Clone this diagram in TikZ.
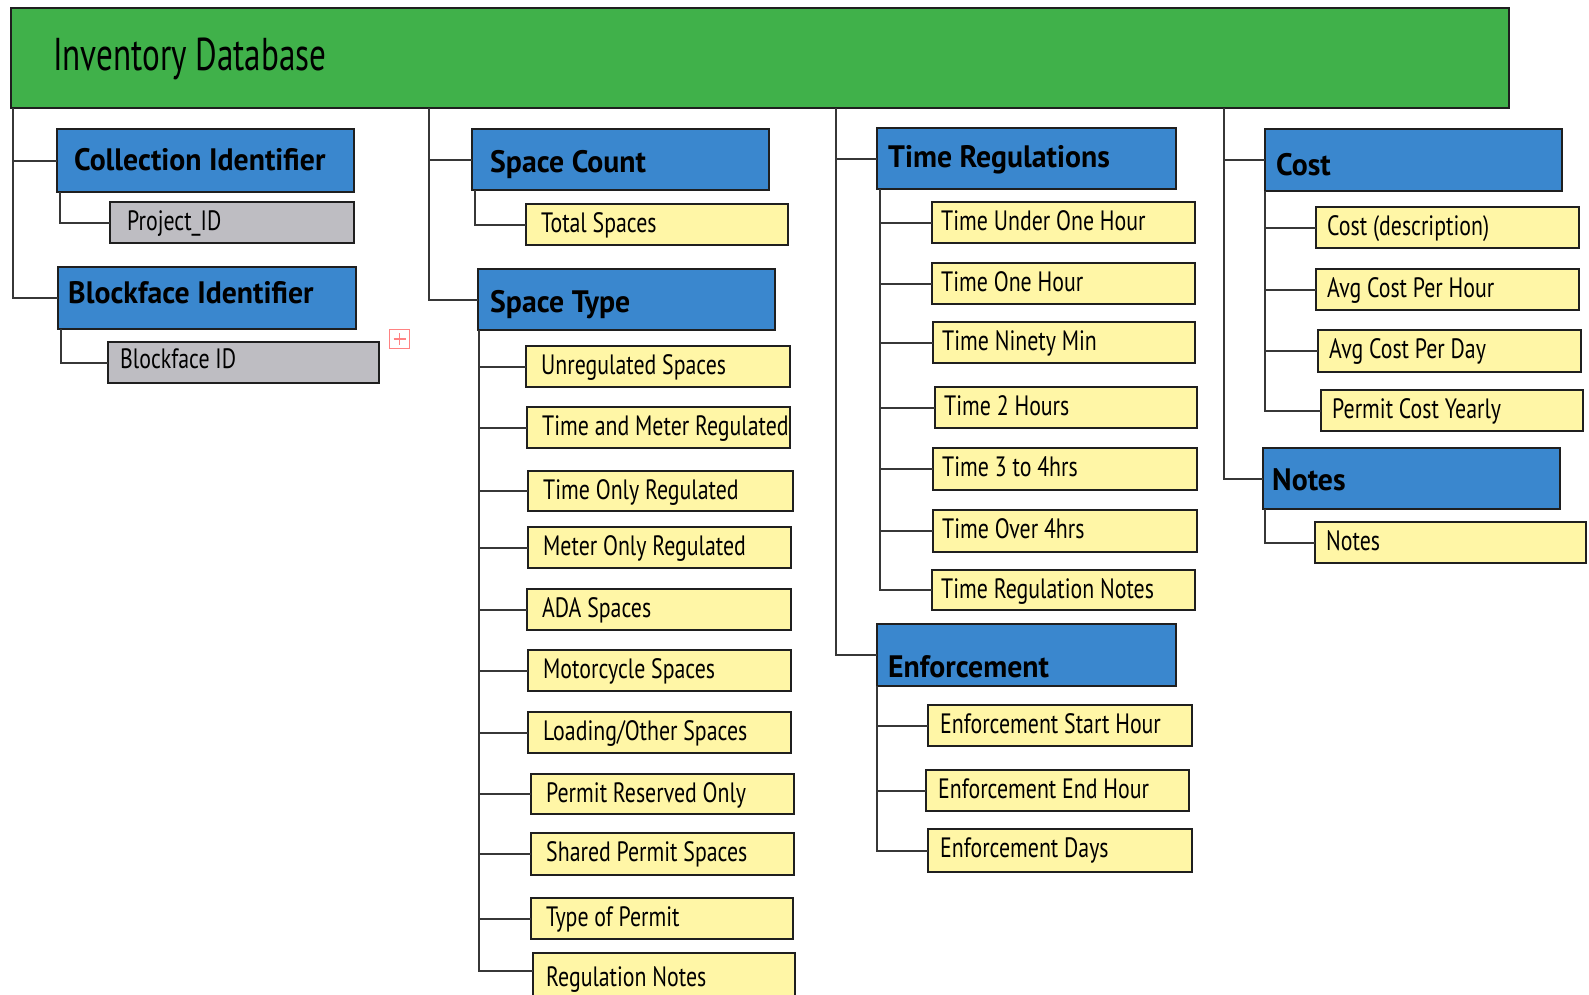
\documentclass[tikz,border=0pt]{standalone}
\usepackage{fontspec}
\setmainfont{PT Sans}
\newfontfamily\leaffont[FakeStretch=0.78]{PT Sans}
\newfontfamily\headfont[FakeStretch=0.96]{PT Sans}
\newfontfamily\titlefont[FakeStretch=0.72]{PT Sans}
\usetikzlibrary{calc}
\definecolor{gfill}{RGB}{64,177,74}
\definecolor{bfill}{RGB}{58,135,206}
\definecolor{yfill}{RGB}{255,246,166}
\definecolor{grfill}{RGB}{190,189,194}
\definecolor{conncol}{RGB}{55,55,55}
\definecolor{plusred}{RGB}{255,130,130}
\tikzset{
 rbox/.style={draw=black!88, line width=2.2pt, inner sep=0pt, outer sep=0pt, anchor=north west},
 rootbox/.style={rbox, fill=gfill},
 headbox/.style={rbox, fill=bfill},
 leafbox/.style={rbox, fill=yfill},
 idbox/.style={rbox, fill=grfill},
 titletext/.style={anchor=base west, inner sep=0pt, font=\titlefont\fontsize{46}{50}\selectfont},
 headtext/.style={anchor=base west, inner sep=0pt, font=\headfont\bfseries\fontsize{31}{34}\selectfont},
 leaftext/.style={anchor=base west, inner sep=0pt, font=\leaffont\fontsize{28}{31}\selectfont},
 conn/.style={draw=conncol, line width=2pt},
 plusbox/.style={draw=plusred, line width=1.2pt, inner sep=0pt, minimum width=20pt, minimum height=19pt, anchor=north west},
}
\newcommand\leafdx{14}
\newcommand\dbbox[6]{\node[#1, minimum width={(#5-#3)*1pt}, minimum height={(#6-#4)*1pt}] (#2) at (#3,#4) {};}
\newcommand\leaf[6]{\dbbox{leafbox}{#1}{#2}{#3}{#4}{#5}\node[leaftext] (#1-t) at (#2+\leafdx,#3+28) {#6};}
\begin{document}
\begin{tikzpicture}[x=1pt,y=-1pt]
\useasboundingbox[fill=white] (0,0) rectangle (1589,994);
% root
\dbbox{rootbox}{root}{11}{8}{1509}{108}
\node[titletext] (root-t) at (53,70) {Inventory Database};
% column 1
\dbbox{headbox}{ci}{57}{129}{354}{192}
\node[headtext] (ci-t) at (74,170) {Collection Identifier};
\dbbox{idbox}{pid}{110}{202}{354}{243}
\node[leaftext] (pid-t) at (127,230) {Project\_ID};
\dbbox{headbox}{bi}{58}{267}{356}{329}
\node[headtext] (bi-t) at (68,303) {Blockface Identifier};
\dbbox{idbox}{bid}{108}{342}{379}{383}
\node[leaftext] (bid-t) at (120,368) {Blockface ID};
\node[plusbox] (plus) at (389,329) {};
\draw[plusred, line width=1.4pt] ($(plus.center)+(-6,0)$) -- ($(plus.center)+(6,0)$) ($(plus.center)+(0,-6)$) -- ($(plus.center)+(0,6)$);
% column 2
\renewcommand\leafdx{15}
\dbbox{headbox}{sc}{472}{129}{769}{190}
\node[headtext] (sc-t) at (490,172) {Space Count};
\leaf{ts}{526}{204}{788}{245}{Total Spaces}
\dbbox{headbox}{st}{478}{269}{775}{330}
\node[headtext] (st-t) at (490,312) {Space Type};
\leaf{s1}{526}{346}{790}{387}{Unregulated Spaces}
\leaf{s2}{527}{407}{790}{448}{Time and Meter Regulated}
\leaf{s3}{528}{471}{793}{511}{Time Only Regulated}
\leaf{s4}{528}{527}{791}{568}{Meter Only Regulated}
\leaf{s5}{527}{589}{791}{630}{ADA Spaces}
\leaf{s6}{528}{650}{791}{691}{Motorcycle Spaces}
\leaf{s7}{528}{712}{791}{753}{Loading/Other Spaces}
\leaf{s8}{531}{774}{794}{814}{Permit Reserved Only}
\leaf{s9}{531}{833}{794}{875}{Shared Permit Spaces}
\leaf{s10}{531}{898}{793}{939}{Type of Permit}
\dbbox{leafbox}{s11}{533}{953}{795}{1010}
\node[leaftext] (s11-t) at (546,986) {Regulation Notes};
% column 3
\renewcommand\leafdx{9}
\dbbox{headbox}{tr}{877}{128}{1176}{189}
\node[headtext] (tr-t) at (888,167) {Time Regulations};
\leaf{t1}{932}{202}{1195}{243}{Time Under One Hour}
\leaf{t2}{932}{263}{1195}{304}{Time One Hour}
\leaf{t3}{933}{322}{1195}{363}{Time Ninety Min}
\leaf{t4}{935}{387}{1197}{428}{Time 2 Hours}
\leaf{t5}{933}{448}{1197}{490}{Time 3 to 4hrs}
\leaf{t6}{933}{510}{1197}{552}{Time Over 4hrs}
\leaf{t7}{932}{570}{1195}{610}{Time Regulation Notes}
\renewcommand\leafdx{12}
\dbbox{headbox}{en}{877}{624}{1176}{686}
\node[headtext] (en-t) at (888,677) {Enforcement};
\leaf{e1}{928}{705}{1192}{746}{Enforcement Start Hour}
\leaf{e2}{926}{770}{1189}{811}{Enforcement End Hour}
\leaf{e3}{928}{829}{1192}{872}{Enforcement Days}
% column 4
\renewcommand\leafdx{11}
\dbbox{headbox}{co}{1265}{129}{1562}{191}
\node[headtext] (co-t) at (1276,175) {Cost};
\leaf{c1}{1316}{207}{1579}{248}{Cost (description)}
\leaf{c2}{1316}{269}{1579}{310}{Avg Cost Per Hour}
\leaf{c3}{1318}{330}{1581}{372}{Avg Cost Per Day}
\leaf{c4}{1321}{390}{1583}{431}{Permit Cost Yearly}
\dbbox{headbox}{no}{1263}{448}{1560}{509}
\node[headtext] (no-t) at (1272,490) {Notes};
\leaf{n1}{1315}{522}{1586}{563}{Notes}
% connectors from root
\draw[conn] ($(root.south west)+(2,0)$) |- (ci.west);
\draw[conn] ($(root.south west)+(2,0)$) |- (bi.west);
\draw[conn] ($(root.south west)+(418,0)$) |- (sc.west);
\draw[conn] ($(root.south west)+(418,0)$) |- (st.west);
\draw[conn] ($(root.south west)+(825,0)$) |- (tr.west);
\draw[conn] ($(root.south west)+(825,0)$) |- (en.west);
\draw[conn] ($(root.south west)+(1213,0)$) |- (co.west);
\draw[conn] ($(root.south west)+(1213,0)$) |- (no.west);
% connectors from headers
\draw[conn] ($(ci.south west)+(3,0)$) |- (pid.west);
\draw[conn] ($(bi.south west)+(3,0)$) |- (bid.west);
\draw[conn] ($(sc.south west)+(3,0)$) |- (ts.west);
\foreach \c in {s1,s2,s3,s4,s5,s6,s7,s8,s9,s10}{\draw[conn] ($(st.south west)+(1,0)$) |- (\c.west);}
\draw[conn] ($(st.south west)+(1,0)$) |- ($(s11.north west)+(0,18)$);
\foreach \c in {t1,t2,t3,t4,t5,t6,t7}{\draw[conn] ($(tr.south west)+(3,0)$) |- (\c.west);}
\foreach \c in {e1,e2,e3}{\draw[conn] ($(en.south west)+(0,0)$) |- (\c.west);}
\foreach \c in {c1,c2,c3,c4}{\draw[conn] ($(co.south west)+(0,0)$) |- (\c.west);}
\draw[conn] ($(no.south west)+(2,0)$) |- (n1.west);
\end{tikzpicture}
\end{document}
